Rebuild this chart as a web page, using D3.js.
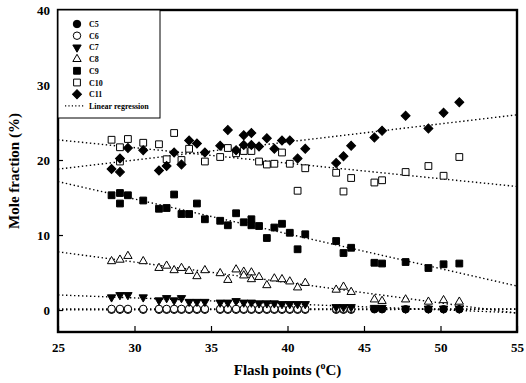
<!DOCTYPE html>
<html>
<head>
<meta charset="utf-8">
<script src="https://cdn.jsdelivr.net/npm/d3@7"></script>
<style>
  html, body { margin: 0; padding: 0; background: #fff; }
  svg { display: block; }
  text { font-family: "Liberation Serif", "Times New Roman", serif; font-weight: bold; fill: #000; }
</style>
</head>
<body>
<svg id="chart" width="526" height="383"></svg>
<script>
// ---- Data ----
const flashPoints = [28.5, 29.05, 29.05, 29.57, 30.57, 31.6, 32.1, 32.59, 33.07, 33.57, 34.08, 34.6,
  35.6, 36.1, 36.64, 37.14, 37.14, 37.64, 37.64, 38.14, 38.65, 39.14, 39.64, 40.15, 40.66, 41.16,
  43.18, 43.66, 44.16, 45.68, 46.18, 47.72, 49.21, 50.2, 51.23];

const c5  = [0.05,0.05,null,0.05,0.05,0.05,0.05,0.05,0.05,0.05,0.05,0.05,0.05,0.05,0.05,0.05,null,0.05,null,
  0.05,0.05,0.05,0.05,0.05,0.05,0.05,0.05,0.05,0.05,0.1,0.1,0.1,0.1,0.1,0.1];
const c6  = [0.15,0.15,null,0.15,0.15,0.15,0.15,0.15,0.15,0.15,0.15,0.15,0.15,0.15,0.15,0.15,null,0.15,null,
  0.15,0.15,0.15,0.15,0.15,0.15,0.15,0.15,0.15,0.15,null,null,null,null,null,null];
const c7  = [1.7,2.0,null,2.0,1.7,1.3,1.6,1.3,1.6,1.1,1.1,1.1,1.0,1.0,1.2,1.0,null,1.0,null,
  0.9,0.9,0.9,0.8,0.8,0.8,0.8,0.4,0.4,0.4,0.3,0.3,0.2,0.2,0.2,0.2];
const c8  = [6.5,6.7,null,7.2,6.5,5.6,5.9,5.3,5.6,5.2,4.5,5.3,4.9,4.0,5.4,5.1,4.6,5.0,4.1,
  4.4,3.3,4.2,4.1,3.8,3.0,3.6,2.7,3.1,2.4,1.4,1.2,1.4,1.1,1.3,1.1];
const c9  = [15.3,15.6,14.2,15.3,14.6,13.5,13.6,15.4,12.8,12.8,14.2,12.1,11.9,11.3,12.9,11.7,null,12.1,11.3,
  11.2,9.6,11.0,11.5,10.3,8.1,10.1,9.2,7.6,8.3,6.3,6.2,6.4,5.6,6.1,6.2];
const c10 = [22.7,21.7,19.8,22.8,22.3,22.1,20.1,23.6,20.0,21.5,null,19.8,20.4,21.6,20.9,21.2,null,21.2,null,
  19.8,19.4,19.5,21.0,19.5,15.9,18.9,18.3,15.8,17.6,17.0,17.3,18.4,19.2,17.9,20.4];
const c11 = [18.8,18.4,20.2,21.6,21.3,18.6,19.2,21.0,19.4,22.6,22.2,21.0,21.9,24.0,21.3,23.3,22.0,23.6,22.0,
  21.8,22.9,21.5,22.6,22.6,20.2,21.5,19.6,20.5,21.9,23.0,23.9,25.9,24.2,26.3,27.7];

const seriesNames = ["C5", "C6", "C7", "C8", "C9", "C10", "C11"];
const seriesValues = [c5, c6, c7, c8, c9, c10, c11];
const xTicks = [25, 30, 35, 40, 45, 50, 55];
const yTicks = [0, 10, 20, 30, 40];

// ---- Marker styles ----
const markerStyle = {
  C5:  { type: d3.symbolCircle,   size: 44, fill: "#000", rotate: 0 },
  C6:  { type: d3.symbolCircle,   size: 44, fill: "#fff", rotate: 0 },
  C7:  { type: d3.symbolTriangle, size: 30, fill: "#000", rotate: 180 },
  C8:  { type: d3.symbolTriangle, size: 30, fill: "#fff", rotate: 0 },
  C9:  { type: d3.symbolSquare,   size: 46, fill: "#000", rotate: 0 },
  C10: { type: d3.symbolSquare,   size: 46, fill: "#fff", rotate: 0 },
  C11: { type: d3.symbolSquare,   size: 40, fill: "#000", rotate: 45 }
};

// ---- Layout ----
const svg = d3.select("#chart");
const pL = 58, pR = 517, pT = 10, pB = 332;

const x = d3.scaleLinear().domain([25, 55]).range([pL, pR]);
const y = d3.scaleLinear().domain([-2.93, 40]).range([pB, pT]);

svg.append("defs").append("clipPath").attr("id", "plotclip")
  .append("rect").attr("x", pL).attr("y", pT).attr("width", pR - pL).attr("height", pB - pT);

// ---- Regression lines (least squares from data) ----
function fit(vals) {
  const pts = flashPoints.map((fx, i) => [fx, vals[i]]).filter(p => p[1] != null);
  const mx = d3.mean(pts, p => p[0]), my = d3.mean(pts, p => p[1]);
  let sxy = 0, sxx = 0;
  pts.forEach(p => { sxy += (p[0] - mx) * (p[1] - my); sxx += (p[0] - mx) ** 2; });
  const b = sxy / sxx;
  return { a: my - b * mx, b };
}
const lineGen = d3.line().x(d => x(d[0])).y(d => y(d[1]));
const regG = svg.append("g").attr("clip-path", "url(#plotclip)");
seriesValues.forEach((vals) => {
  const f = fit(vals);
  const dom = x.domain();
  regG.append("path")
    .attr("d", lineGen(dom.map(v => [v, f.a + f.b * v])))
    .attr("fill", "none").attr("stroke", "#000").attr("stroke-width", 1.4)
    .attr("stroke-dasharray", "1.4,2.6");
});

// ---- Markers ----
const markG = svg.append("g");
seriesNames.forEach((name, si) => {
  const st = markerStyle[name];
  const sym = d3.symbol().type(st.type).size(st.size);
  const pts = flashPoints.map((fx, i) => [fx, seriesValues[si][i]]).filter(p => p[1] != null);
  markG.append("g").selectAll("path").data(pts).join("path")
    .attr("d", sym)
    .attr("transform", d => `translate(${x(d[0])},${y(d[1])}) rotate(${st.rotate})`)
    .attr("fill", st.fill).attr("stroke", "#000").attr("stroke-width", 1);
});

// ---- Axes ----
const xAxis = d3.axisBottom(x).tickValues(xTicks).tickSize(-6).tickPadding(11).tickFormat(d3.format("d"));
const gx = svg.append("g").attr("transform", `translate(0,${pB})`).call(xAxis);
gx.select(".domain").remove();
gx.selectAll("line").attr("stroke", "#000").attr("stroke-width", 1.2);
gx.selectAll("text").style("font-size", "13px").style("font-family", "Liberation Serif, serif").style("font-weight", "bold");

const yAxis = d3.axisLeft(y).tickValues(yTicks).tickSize(-5).tickPadding(8).tickFormat(d3.format("d"));
const gy = svg.append("g").attr("transform", `translate(${pL},0)`).call(yAxis);
gy.select(".domain").remove();
gy.selectAll("line").attr("stroke", "#000").attr("stroke-width", 1.2);
gy.selectAll("text").style("font-size", "13px").style("font-family", "Liberation Serif, serif").style("font-weight", "bold");

// Frame
svg.append("rect").attr("x", pL).attr("y", pT).attr("width", pR - pL).attr("height", pB - pT)
  .attr("fill", "none").attr("stroke", "#000").attr("stroke-width", 2.4);

// Axis titles
const xt = svg.append("text").attr("x", (pL + pR) / 2).attr("y", 375).attr("text-anchor", "middle")
  .style("font-size", "15px");
xt.append("tspan").text("Flash points (");
xt.append("tspan").text("o").attr("dy", -6).style("font-size", "10px");
xt.append("tspan").text("C)").attr("dy", 6);

svg.append("text").attr("transform", `translate(19,${(pT + pB) / 2}) rotate(-90)`)
  .attr("text-anchor", "middle").style("font-size", "15px").text("Mole fraction (%)");

// ---- Legend ----
const lg = svg.append("g");
lg.append("rect").attr("x", pL).attr("y", pT).attr("width", 102).attr("height", 108)
  .attr("fill", "#fff").attr("stroke", "#000").attr("stroke-width", 1);
seriesNames.forEach((name, i) => {
  const st = markerStyle[name];
  const yy = 24 + i * 11.7;
  lg.append("path").attr("d", d3.symbol().type(st.type).size(st.size)())
    .attr("transform", `translate(77,${yy}) rotate(${st.rotate})`)
    .attr("fill", st.fill).attr("stroke", "#000").attr("stroke-width", 1);
  lg.append("text").attr("x", 89).attr("y", yy + 3).style("font-size", "8px").text(name);
});
const ly = 24 + 7 * 11.7;
lg.append("line").attr("x1", 65).attr("x2", 84).attr("y1", ly).attr("y2", ly)
  .attr("stroke", "#000").attr("stroke-width", 1.2).attr("stroke-dasharray", "1.2,2.2");
lg.append("text").attr("x", 89).attr("y", ly + 3).style("font-size", "8px").text("Linear regression");
</script>
</body>
</html>
